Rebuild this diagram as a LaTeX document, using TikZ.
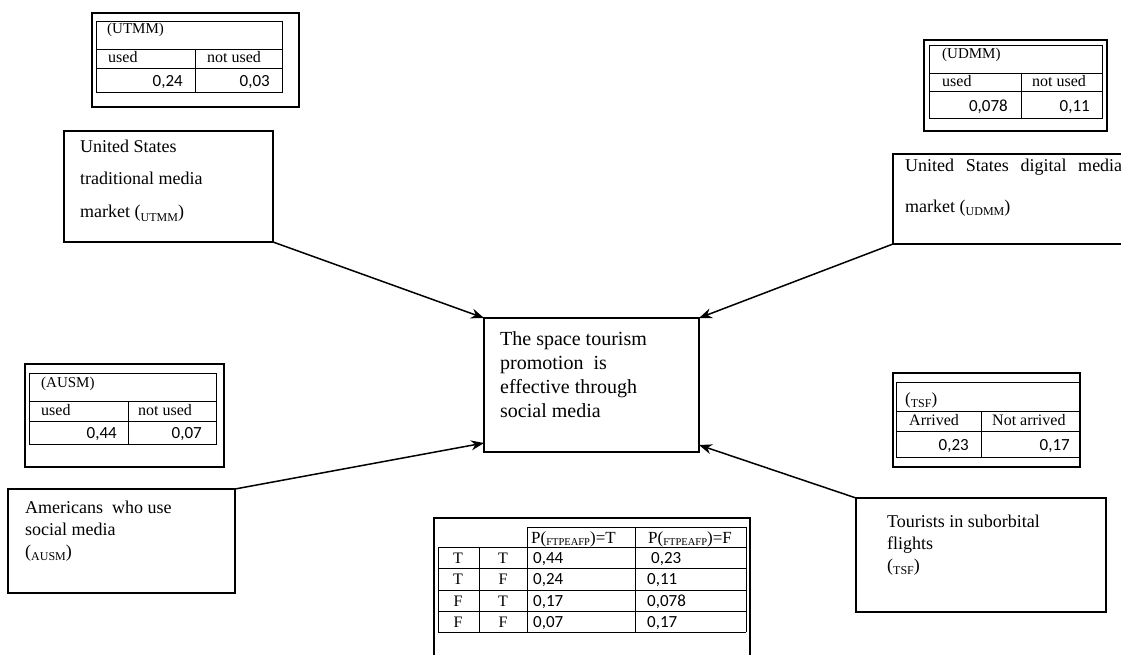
\documentclass[tikz,border=0pt]{standalone}
\usepackage{fontspec}
\setmainfont{Liberation Serif}
\newfontfamily\numfont{Carlito}
\usetikzlibrary{arrows.meta,positioning}
\tikzset{>={Stealth[length=13pt,width=10pt]},
  box/.style={draw,line width=1.2pt,anchor=north west,inner sep=0pt,outer sep=0pt},
  boxtext/.style={anchor=base west,align=left,inner sep=0pt},
  frame/.style={line width=1.2pt},
  tab/.style={line width=0.8pt},
  cell/.style={inner sep=0pt,anchor=base west,font=\fontsize{16}{16}\selectfont},
  num/.style={inner sep=0pt,anchor=base east,font=\numfont\fontsize{17}{17}\selectfont}}
\newcommand\lowcap[1]{\raisebox{-3pt}{\fontsize{12}{12}\selectfont #1}}
\newcommand\lowtiny[1]{\raisebox{-2pt}{\fontsize{10.5}{10.5}\selectfont #1}}

\begin{document}
\begin{tikzpicture}[x=1pt,y=-1pt]
  \useasboundingbox (0,0) rectangle (1121,655);
  \clip (0,0) rectangle (1121,655);

  % the boxes (text placed by the baseline of its last line)
  \node[box,minimum width=209pt,minimum height=111pt] (utmm) at (64,131) {};
  \node[boxtext,font=\fontsize{18}{33}\selectfont] (utmmtext) at (80,218) {United States\\traditional media\\market (\lowcap{UTMM})};

  \node[box,minimum width=250pt,minimum height=90pt] (udmm) at (893,154) {};
  \node[boxtext,font=\fontsize{18}{40}\selectfont] (udmmtext) at (905,212) {\makebox[217pt][s]{United States digital media}\\market (\lowcap{UDMM})};

  \node[box,minimum width=215pt,minimum height=134pt] (main) at (484,318) {};
  \node[boxtext,font=\fontsize{20}{24}\selectfont] (maintext) at (500,417) {The space tourism\\promotion\ \ is\\effective through\\social media};

  \node[box,minimum width=227pt,minimum height=104pt] (ausm) at (8,489) {};
  \node[boxtext,font=\fontsize{18}{22}\selectfont] (ausmtext) at (25,557) {Americans\ \ who use\\social media\\(\lowcap{AUSM})};

  \node[box,minimum width=250pt,minimum height=114pt] (tsf) at (856,498) {};
  \node[boxtext,font=\fontsize{18}{22}\selectfont] (tsftext) at (887,571) {Tourists in suborbital\\flights\\(\lowcap{TSF})};

  % arrows
  \draw[->,line width=1.5pt] (utmm.south east) -- (main.north west);
  \draw[->,line width=1.5pt] (udmm.south west) -- (main.north east);
  \draw[->,line width=1.5pt] (ausm.north east) -- ([yshift=9pt]main.south west);
  \draw[->,line width=1.5pt] (tsf.north west) -- ([yshift=7pt]main.south east);

  % UTMM table
  \draw[frame] (92,13) rectangle (299,107);
  \draw[tab] (96,21) rectangle (282,92) (96,49) -- (282,49) (96,68) -- (282,68) (195,49) -- (195,92);
  \node[cell,font=\fontsize{15}{15}\selectfont] (utmmh) at (107,34) {(UTMM)};
  \node[cell] (utmmu) at (108,63) {used};
  \node[cell] (utmmn) at (207,63) {not used};
  \node[num] (utmma) at (183,87) {0,24};
  \node[num] (utmmb) at (270,87) {0,03};

  % UDMM table
  \draw[frame] (924,40) rectangle (1107,131);
  \draw[tab] (929,45) rectangle (1102,118) (929,73) -- (1102,73) (929,91) -- (1102,91) (1021,73) -- (1021,118);
  \node[cell,font=\fontsize{15}{15}\selectfont] (udmmh) at (942,59) {(UDMM)};
  \node[cell] (udmmu) at (942,87) {used};
  \node[cell] (udmmn) at (1032,87) {not used};
  \node[num] (udmma) at (1008,112) {0,078};
  \node[num] (udmmb) at (1090,112) {0,11};

  % AUSM table
  \draw[frame] (25,364) rectangle (224,467);
  \draw[tab] (29,373) rectangle (216,444) (29,401) -- (216,401) (29,421) -- (216,421) (128,401) -- (128,444);
  \node[cell,font=\fontsize{15}{15}\selectfont] (ausmh) at (41,387) {(AUSM)};
  \node[cell] (ausmu) at (41,415) {used};
  \node[cell] (ausmn) at (138,415) {not used};
  \node[num] (ausma) at (117,438) {0,44};
  \node[num] (ausmb) at (202,438) {0,07};

  % TSF table
  \draw[frame] (893,373) rectangle (1080,467);
  \draw[tab] (896,382) rectangle (1080,457) (896,411) -- (1080,411) (896,431) -- (1080,431) (981,411) -- (981,457);
  \node[cell,font=\fontsize{17}{17}\selectfont] (tsfh) at (905,404) {(\lowcap{TSF})};
  \node[cell] (tsfa) at (909,425) {Arrived};
  \node[cell] (tsfn) at (992,425) {Not arrived};
  \node[num] (tsfx) at (969,450) {0,23};
  \node[num] (tsfy) at (1070,450) {0,17};

  % joint table
  \draw[frame] (434,670) -- (434,518) -- (750,518) -- (750,670);
  \draw[tab] (527,527) -- (746,527);
  \foreach \y in {547,568,590,611,632}
    \draw[tab] (438,\y) -- (746,\y);
  \draw[tab] (438,547) -- (438,632) (479,547) -- (479,632) (527,527) -- (527,632)
    (635,527) -- (635,632) (746,527) -- (746,632);
  \node[cell,font=\fontsize{17}{17}\selectfont] (jt) at (531,543) {P(\lowtiny{FTPEAFP})=T};
  \node[cell,font=\fontsize{17}{17}\selectfont] (jf) at (648,543) {P(\lowtiny{FTPEAFP})=F};
  \node[cell,anchor=base] (r1a) at (458,563) {T};
  \node[cell,anchor=base] (r1b) at (503,563) {T};
  \node[cell,anchor=base] (r2a) at (458,584) {T};
  \node[cell,anchor=base] (r2b) at (503,584) {F};
  \node[cell,anchor=base] (r3a) at (458,606) {F};
  \node[cell,anchor=base] (r3b) at (503,606) {T};
  \node[cell,anchor=base] (r4a) at (458,627) {F};
  \node[cell,anchor=base] (r4b) at (503,627) {F};
  \node[num,anchor=base west] (r1t) at (533,563) {0,44};
  \node[num,anchor=base west] (r1f) at (651,563) {0,23};
  \node[num,anchor=base west] (r2t) at (533,584) {0,24};
  \node[num,anchor=base west] (r2f) at (647,584) {0,11};
  \node[num,anchor=base west] (r3t) at (533,606) {0,17};
  \node[num,anchor=base west] (r3f) at (647,606) {0,078};
  \node[num,anchor=base west] (r4t) at (533,627) {0,07};
  \node[num,anchor=base west] (r4f) at (647,627) {0,17};
\end{tikzpicture}
\end{document}
